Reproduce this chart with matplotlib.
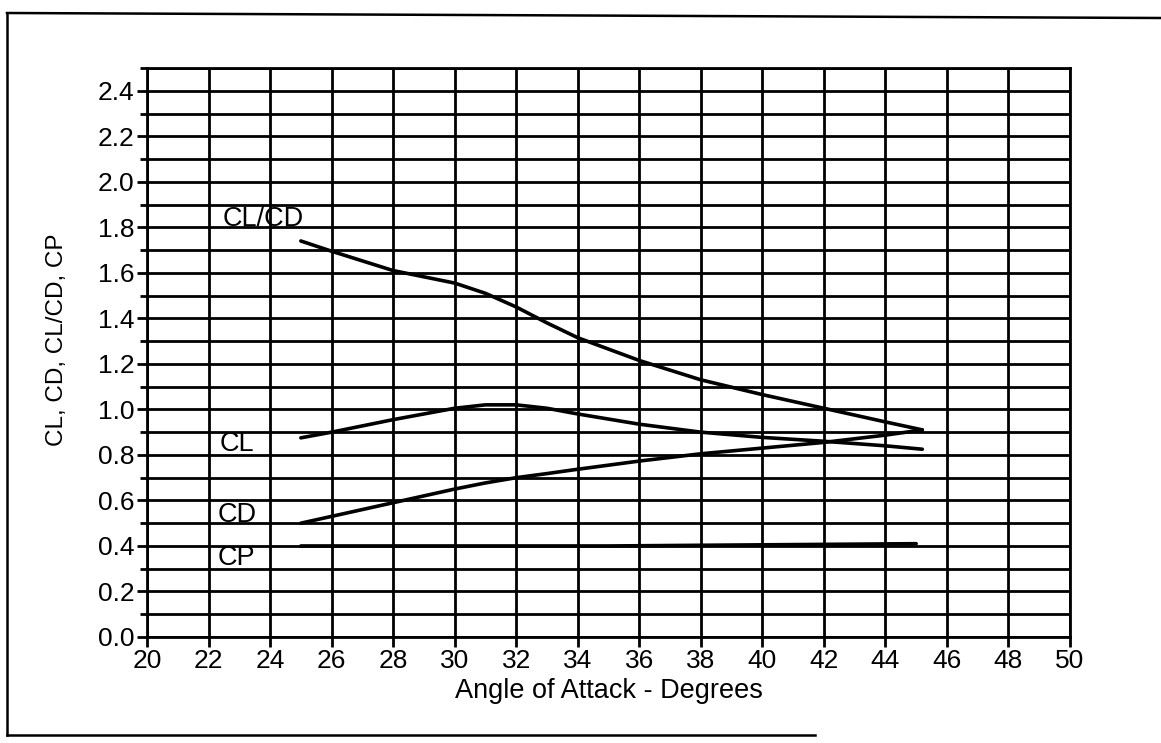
import matplotlib
matplotlib.use("Agg")
import matplotlib.pyplot as plt
from matplotlib.lines import Line2D
from matplotlib.ticker import MultipleLocator

plt.rcParams['font.family'] = ['Liberation Sans', 'DejaVu Sans']

# Aerodynamic coefficients versus angle of attack
alpha = [25, 26, 28, 30, 31, 32, 33, 34, 36, 38, 40, 42, 44, 45.2]
cl_cd = [1.74, 1.695, 1.61, 1.555, 1.51, 1.45, 1.38, 1.315, 1.215, 1.13, 1.065, 1.005, 0.945, 0.91]
cl = [0.875, 0.90, 0.955, 1.005, 1.02, 1.02, 1.005, 0.98, 0.935, 0.90, 0.877, 0.86, 0.84, 0.825]
cd = [0.50, 0.53, 0.59, 0.65, 0.677, 0.70, 0.718, 0.737, 0.773, 0.805, 0.83, 0.855, 0.887, 0.91]
cp_alpha = [25, 30, 35, 40, 45]
cp = [0.40, 0.40, 0.40, 0.405, 0.41]

x_ticks = list(range(20, 51, 2))
y_ticks = [round(0.2 * i, 1) for i in range(13)]

series_labels = [("CL/CD", 22.45, 1.835), ("CL", 22.37, 0.85),
                 ("CD", 22.3, 0.535), ("CP", 22.3, 0.345)]

W, H = 1161, 743
fig = plt.figure(figsize=(W / 100, H / 100), dpi=100)
ax = fig.add_axes([147 / W, 1 - 637 / H, (1070 - 147) / W, (637 - 68) / H])

ax.set_xlim(20, 50)
ax.set_ylim(0, 2.5)
ax.set_xticks(x_ticks)
ax.set_yticks(y_ticks)
ax.set_yticklabels([f"{v:.1f}" for v in y_ticks])
ax.yaxis.set_minor_locator(MultipleLocator(0.1))
ax.grid(True, which='both', color='black', linewidth=2.0)
ax.set_axisbelow(True)
for s in ax.spines.values():
    s.set_linewidth(2.0)

ax.tick_params(axis='both', which='major', direction='out', length=7, width=2.0,
               labelsize=19, pad=2, color='black')
ax.tick_params(axis='y', which='minor', direction='out', length=5, width=2.0)

lw = 2.6
for ys in (cl_cd, cl, cd):
    ax.plot(alpha, ys, color='black', lw=lw, solid_capstyle='round', solid_joinstyle='round')
ax.plot(cp_alpha, cp, color='black', lw=lw, solid_capstyle='round', solid_joinstyle='round')

for text, x, y in series_labels:
    ax.text(x, y, text, fontsize=19.5, ha='left', va='center')

ax.set_xlabel("Angle of Attack - Degrees", fontsize=19.5, labelpad=3)
fig.text(57 / W, 1 - 340 / H, "CL, CD, CL/CD, CP", rotation=90,
         fontsize=17.5, ha='center', va='center')

# Outer frame
frame_kw = dict(color='black', linewidth=1.8, transform=fig.transFigure)
fig.add_artist(Line2D([7 / W, 7 / W], [1 - 13 / H, 1 - 735 / H], **frame_kw))
fig.add_artist(Line2D([7 / W, 1.0], [1 - 13 / H, 1 - 18 / H], **frame_kw))
fig.add_artist(Line2D([7 / W, 815 / W], [1 - 735 / H, 1 - 735 / H], **frame_kw))

fig.savefig("out.png", dpi=100, facecolor='white')
